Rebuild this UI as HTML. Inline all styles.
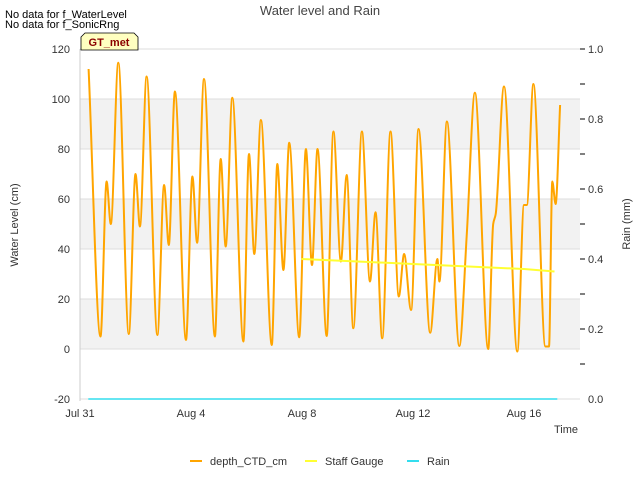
<!DOCTYPE html>
<html><head><meta charset="utf-8"><style>
body{margin:0;background:#fff;}
svg text{font-family:"Liberation Sans",sans-serif;}
</style></head><body>
<svg id="c" width="640" height="480" xmlns="http://www.w3.org/2000/svg">
<rect x="0" y="0" width="640" height="480" fill="#fff"/>
<g id="bands"></g><g id="grid"></g><g id="series"></g><g id="axes"></g>
<text x="320" y="15" text-anchor="middle" font-size="13" fill="#444">Water level and Rain</text>
<text x="5" y="18" font-size="11" fill="#000">No data for f_WaterLevel</text>
<text x="5" y="28" font-size="11" fill="#000">No data for f_SonicRng</text>
<g>
<path d="M81,50 L81,37 L85,33 L134,33 L138,37 L138,50 Z" fill="#ffffc0" stroke="#000" stroke-width="0.8"/>
<text x="109" y="46" text-anchor="middle" font-size="11" font-weight="bold" fill="#8b0000">GT_met</text>
</g>
<text transform="translate(18,225) rotate(-90)" text-anchor="middle" font-size="11" fill="#333">Water Level (cm)</text>
<text transform="translate(630,224) rotate(-90)" text-anchor="middle" font-size="11" fill="#333">Rain (mm)</text>
<text x="578" y="433" text-anchor="end" font-size="11" fill="#333">Time</text>
<g>
<g><line x1="190" y1="461" x2="202" y2="461" stroke="#ffa500" stroke-width="2"/><text x="210" y="465" font-size="11" fill="#333">depth_CTD_cm</text></g>
<g><line x1="305" y1="461" x2="317" y2="461" stroke="#ffff33" stroke-width="2"/><text x="325" y="465" font-size="11" fill="#333">Staff Gauge</text></g>
<g><line x1="407" y1="461" x2="419" y2="461" stroke="#33ddee" stroke-width="2"/><text x="427" y="465" font-size="11" fill="#333">Rain</text></g>
</g>
</svg>
<script>
const yTicks=[-20,0,20,40,60,80,100,120];
const y2Ticks=[0.0,0.2,0.4,0.6,0.8,1.0];
const xTickDays=[0,4,8,12,16];
const xTickLabels=["Jul 31","Aug 4","Aug 8","Aug 12","Aug 16"];
const depthDays=[0.31,0.74,0.96,1.11,1.38,1.76,2.0,2.16,2.40,2.79,3.03,3.20,3.42,3.82,4.05,4.22,4.47,4.86,5.07,5.25,5.49,5.89,6.09,6.28,6.52,6.91,7.11,7.33,7.54,7.90,8.14,8.36,8.56,8.89,9.13,9.40,9.61,9.85,10.16,10.45,10.65,10.89,11.19,11.49,11.68,11.93,12.20,12.62,12.88,12.95,13.22,13.67,13.94,14.23,14.71,14.89,14.98,15.28,15.76,16.0,16.1,16.34,16.77,16.9,17.02,17.14,17.30];
const depthVals=[112,5,67,50,114.5,6,70,49,109,5.6,65.6,41.6,103,3.6,69,42.5,108,5,76,41,100.5,3,78,38,91.6,1.6,74,31.6,82.5,4.7,80,33.6,80,5.2,87,35,69.6,8.3,87,27,54.7,4.3,87,21,38,15.6,88,6.5,36,27,91,1.2,46,102.5,0,50,54,105,-1,57.6,57.6,106,1,1,67,58,97.6];
const staffDays=[7.98,10,12,14,16,17.1];
const staffVals=[36,35,34,33,32,31];
const rainDays=[0.3,17.2];
const rainVals=[0,0];
const svg=document.getElementById('c'),NS='http://www.w3.org/2000/svg';
const X0=80,X1=580,Y0=49,Y1=399;
const xs=d=>X0+d*27.75;
const ys=v=>Y1-(v+20)*(Y1-Y0)/140;
const y2s=v=>Y1-v*(Y1-Y0)/1.0;
function mk(tag,attrs,parent){const e=document.createElementNS(NS,tag);for(const k in attrs)e.setAttribute(k,attrs[k]);parent.appendChild(e);return e;}
const bands=document.getElementById('bands'),grid=document.getElementById('grid'),series=document.getElementById('series'),axes=document.getElementById('axes');
for(let i=0;i<yTicks.length-1;i++){if(i%2===1){const r=mk('rect',{x:X0,y:ys(yTicks[i+1]),width:X1-X0,height:ys(yTicks[i])-ys(yTicks[i+1]),fill:'#f2f2f2'},bands);

}}
yTicks.forEach(t=>{const l=mk('line',{x1:X0,x2:X1,y1:ys(t),y2:ys(t),stroke:'#ddd','stroke-width':1},grid);


const tx=mk('text',{x:X0-10,y:ys(t)+4,'text-anchor':'end','font-size':11,fill:'#333'},axes);tx.textContent=t;

});
y2Ticks.forEach(t=>{const tx=mk('text',{x:X1+8,y:y2s(t)+4,'font-size':11,fill:'#333'},axes);tx.textContent=t.toFixed(1);

});
for(let v=0.1;v<1;v+=0.1){const t=mk('line',{x1:X1,x2:X1+5,y1:y2s(v),y2:y2s(v),stroke:'#000'},axes);

}
mk('line',{x1:X0,x2:X0,y1:Y0,y2:Y1+2,stroke:'#ccc'},axes);
xTickDays.forEach((d,i)=>{const tx=mk('text',{x:xs(d),y:Y1+18,'text-anchor':'middle','font-size':11,fill:'#333'},axes);tx.textContent=xTickLabels[i];

});
function smoothPath(px,py){
  const n=px.length,m=[],d=[];
  for(let i=0;i<n-1;i++)d.push((py[i+1]-py[i])/(px[i+1]-px[i]));
  for(let i=0;i<n;i++){
    if(i===0)m.push(d[0]);else if(i===n-1)m.push(d[n-2]);
    else if(d[i-1]*d[i]<=0)m.push(0);
    else{const a=d[i-1],b=d[i];m.push(2*a*b/(a+b));}
  }
  let p='M'+px[0].toFixed(1)+','+py[0].toFixed(1);
  for(let i=0;i<n-1;i++){const h=(px[i+1]-px[i])/3;
    p+='C'+(px[i]+h).toFixed(1)+','+(py[i]+m[i]*h).toFixed(1)+' '+(px[i+1]-h).toFixed(1)+','+(py[i+1]-m[i+1]*h).toFixed(1)+' '+px[i+1].toFixed(1)+','+py[i+1].toFixed(1);}
  return p;
}
function line(days,vals,sc,color,w,name,smooth){
  const px=days.map(xs),py=vals.map(sc);
  const p=smooth?smoothPath(px,py):px.map((x,i)=>(i?'L':'M')+x.toFixed(1)+','+py[i].toFixed(1)).join('');
  const e=mk('path',{d:p,fill:'none',stroke:color,'stroke-width':w,'stroke-linejoin':'round'},series);
  
  }
line(rainDays,rainVals,y2s,'#33ddee',1.5,'rain-line',false);
line(depthDays,depthVals,ys,'#ffa500',2,'depth-line',true);
line(staffDays,staffVals,ys,'#ffff33',2,'staff-gauge-line',false);
</script>
</body></html>
